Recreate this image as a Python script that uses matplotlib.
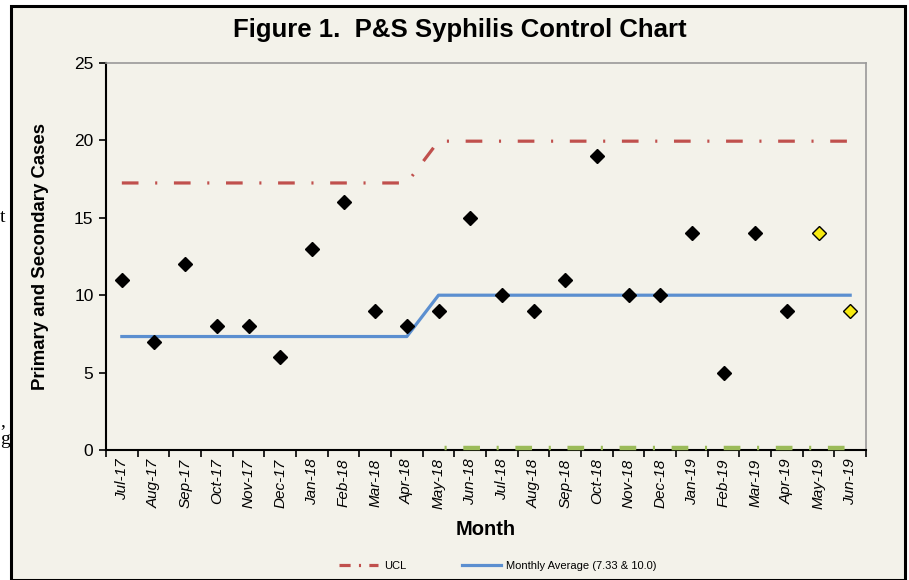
#
# P&S Syphilis control chart
#
import numpy as np
import matplotlib.pyplot as plt
from matplotlib.patches import Rectangle
from matplotlib.lines import Line2D
#
# Data
#
months = ['Jul-17', 'Aug-17', 'Sep-17', 'Oct-17', 'Nov-17', 'Dec-17',
          'Jan-18', 'Feb-18', 'Mar-18', 'Apr-18', 'May-18', 'Jun-18',
          'Jul-18', 'Aug-18', 'Sep-18', 'Oct-18', 'Nov-18', 'Dec-18',
          'Jan-19', 'Feb-19', 'Mar-19', 'Apr-19', 'May-19', 'Jun-19']
cases = [11, 7, 12, 8, 8, 6, 13, 16, 9, 8, 9, 15,
         10, 9, 11, 19, 10, 10, 14, 5, 14, 9, 14, 9]
n_prelim = 2                                  # last months, shown in yellow
avg = [7.33] * 10 + [10.0] * 14
ucl = [17.25] * 10 + [19.95] * 14
lcl = [np.nan] * 10 + [0.1] * 14
#
# Styling
#
plt.rcParams['font.family'] = ['Liberation Sans', 'DejaVu Sans']
plt.rcParams['lines.scale_dashes'] = False
bg = '#f3f2ea'
red, blue, green = '#c0504d', '#5b8fd0', '#9bbb59'
dashdot = (0, (12, 12, 1.5, 12))

fig = plt.figure(figsize=(9.09, 5.8), dpi=100)
fig.patch.set_facecolor('white')
# Chart frame
fig.patches.append(Rectangle((11/909, 0), 894/909, 1 - 6/580, transform=fig.transFigure,
                             facecolor=bg, edgecolor='black', lw=2.2, zorder=-1))
ax = fig.add_axes([106/909, 130/580, 760/909, 387/580])
ax.set_facecolor(bg)

x = np.arange(len(months)) + 0.5
ax.plot(x, ucl, color=red, lw=2.3, linestyle=dashdot)
ax.plot(x, lcl, color=green, lw=3.2, linestyle=(20, (12, 12, 1.5, 12)),
        clip_on=False, zorder=3)
ax.plot(x, avg, color=blue, lw=2.3)
k = len(months) - n_prelim
ax.plot(x[:k], cases[:k], 'D', color='black', ms=7.5, zorder=5)
ax.plot(x[k:], cases[k:], 'D', mfc='#f7ea10', mec='black', mew=1.0, ms=7.5, zorder=5)

ax.set_xlim(0, len(months))
ax.set_ylim(0, 25)
ax.set_yticks(range(0, 26, 5))
ax.set_xticks(np.arange(len(months) + 1))
ax.set_xticks(x, minor=True)
ax.set_xticklabels([])
ax.set_xticklabels(months, minor=True, rotation=90, fontsize=11, style='italic')
ax.tick_params(axis='x', which='minor', length=0, pad=6)
ax.tick_params(axis='x', which='major', length=5, width=1.2)
ax.tick_params(axis='y', length=5, width=1.2, labelsize=12.5, pad=4)
for s in ['left', 'bottom']:
    ax.spines[s].set_linewidth(1.5)
for s in ['top', 'right']:
    ax.spines[s].set_color('#999999')
    ax.spines[s].set_linewidth(1.2)

ax.set_ylabel('Primary and Secondary Cases', fontsize=13.4, fontweight='bold', labelpad=18)
ax.set_xlabel('Month', fontsize=14.5, fontweight='bold', labelpad=8)
fig.text(460/909, 1 - 30/580, 'Figure 1.  P&S Syphilis Control Chart',
         ha='center', va='center', fontsize=18.5, fontweight='bold')
# Legend
handles = [Line2D([], [], color=red, lw=2.3, linestyle=(0, (8, 6, 1.5, 6))),
           Line2D([], [], color=blue, lw=2.3)]
fig.legend(handles, ['UCL', 'Monthly Average (7.33 & 10.0)'], loc='center',
           bbox_to_anchor=(498/909, 1 - 566/580), ncol=2, frameon=False,
           fontsize=8, handlelength=3.5, columnspacing=5, handletextpad=0.5)
# Stray text from the page behind the chart
fig.text(0.0, 1 - 218/580, 't', family='Liberation Serif', fontsize=14, va='center')
fig.text(0.0, 1 - 422/580, ',', family='Liberation Serif', fontsize=14, va='center')
fig.text(0.0, 1 - 440/580, 'g', family='Liberation Serif', fontsize=14, va='center')

plt.savefig('out.png', dpi=100, facecolor=fig.get_facecolor())
